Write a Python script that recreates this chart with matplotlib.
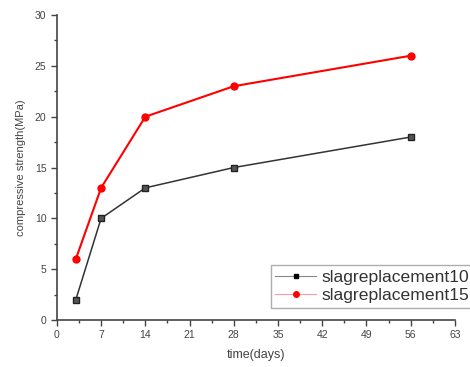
import matplotlib
matplotlib.use("Agg")
import matplotlib.pyplot as plt
from matplotlib.ticker import MultipleLocator
from matplotlib.lines import Line2D

days = [3, 7, 14, 28, 56]
slag10 = [2, 10, 13, 15, 18]
slag15 = [6, 13, 20, 23, 26]
xticks = [0, 7, 14, 21, 28, 35, 42, 49, 56, 63]
yticks = [0, 5, 10, 15, 20, 25, 30]
names = ["slagreplacement10", "slagreplacement15"]

plt.rcParams["font.family"] = ["Liberation Sans", "DejaVu Sans"]
gray = "#444444"

fig = plt.figure(figsize=(4.7, 3.67), dpi=100)
ax = fig.add_axes([0.121, 0.128, 0.847, 0.831])

ax.plot(days, slag10, color="#333333", lw=1.1, marker="s", ms=5,
        mfc="#555555", mec="#222222")
ax.plot(days, slag15, color="red", lw=1.5, marker="o", ms=5,
        mfc="red", mec="red")

ax.set_xlim(0, 63)
ax.set_ylim(0, 30)
ax.set_xticks(xticks)
ax.set_yticks(yticks)
ax.xaxis.set_minor_locator(MultipleLocator(3.5))
ax.yaxis.set_minor_locator(MultipleLocator(2.5))
ax.tick_params(which="major", direction="out", length=4, width=1, color=gray,
               labelsize=7.5, labelcolor=gray)
ax.tick_params(which="minor", direction="out", length=2, width=1, color=gray)

for s in ["top", "right"]:
    ax.spines[s].set_visible(False)
for s in ["left", "bottom"]:
    ax.spines[s].set_color(gray)
    ax.spines[s].set_linewidth(1.2)

ax.set_xlabel("time(days)", fontsize=9, color=gray, labelpad=6)
ax.set_ylabel("compressive strength(MPa)", fontsize=8, color=gray, labelpad=6)

# legend handles drawn thinner, like the original
h1 = Line2D([], [], color="#888888", lw=0.8, marker="s", ms=3.5,
            mfc="black", mec="black")
h2 = Line2D([], [], color="#ff9999", lw=0.8, marker="o", ms=4,
            mfc="red", mec="red")
leg = fig.legend([h1, h2], names, loc="upper left",
                 bbox_to_anchor=(271 / 470, 1 - 265 / 367),
                 fontsize=12.6, frameon=True, fancybox=False, edgecolor="#999999",
                 handlelength=2.3, borderpad=0.25, labelspacing=0.2,
                 handletextpad=0.35, borderaxespad=0)
leg.get_frame().set_linewidth(1.0)
for t in leg.get_texts():
    t.set_color("#333333")

fig.savefig("out.png", dpi=100)
